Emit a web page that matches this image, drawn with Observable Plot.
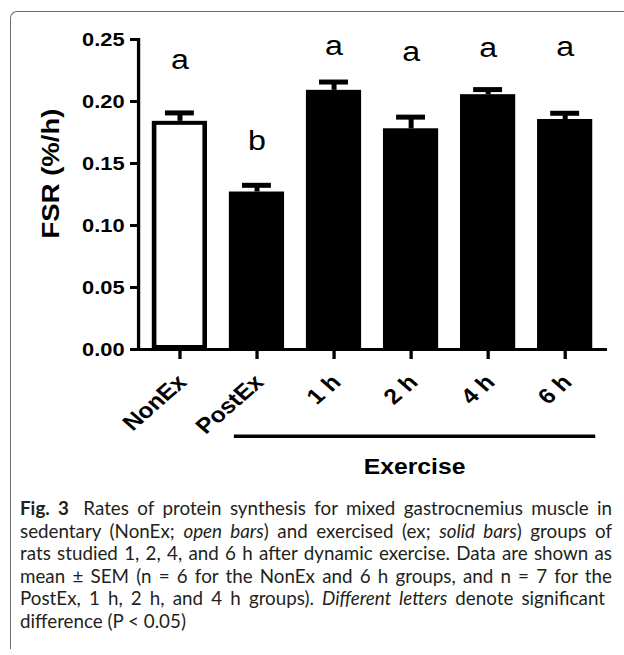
<!DOCTYPE html>
<html>
<head>
<meta charset="utf-8">
<script src="https://cdn.jsdelivr.net/npm/d3@7"></script>
<script src="https://cdn.jsdelivr.net/npm/@observablehq/plot@0.6"></script>
<style>
  html, body { margin: 0; padding: 0; background: #fff; }
  body { width: 624px; height: 655px; overflow: hidden; position: relative; }
  #frame { position: absolute; left: 10px; top: 11px; width: 700px; height: 637px;
           border-top: 1.5px solid #6e6e6e; border-left: 1.5px solid #6e6e6e;
           border-top-left-radius: 7px; pointer-events: none; z-index: 2; }
  #chart { position: absolute; left: 0; top: 0; }
  #caption { position: absolute; left: 20px; top: 497px; width: 592px;
             font-family: Lato, "Open Sans", sans-serif; font-size: 18.8px;
             line-height: 22.5px; color: #231f20; }
  #caption div { text-align: justify; text-align-last: justify; white-space: nowrap; }
  #caption div.l5 { width: 585px; }
  #caption div.last { text-align-last: left; }
  #caption b { font-weight: 700; margin-right: 6px; }
</style>
</head>
<body>
<div id="frame"></div>
<div id="chart"></div>
<div id="caption">
  <div><b>Fig. 3</b> Rates of protein synthesis for mixed gastrocnemius muscle in</div>
  <div>sedentary (NonEx; <i>open bars</i>) and exercised (ex; <i>solid bars</i>) groups of</div>
  <div>rats studied 1, 2, 4, and 6 h after dynamic exercise. Data are shown as</div>
  <div>mean ± SEM (n = 6 for the NonEx and 6 h groups, and n = 7 for the</div>
  <div class="l5">PostEx, 1 h, 2 h, and 4 h groups). <i>Different letters</i> denote significant</div>
  <div class="last">difference (P &lt; 0.05)</div>
</div>
<script>
// ---- data ----
const groups      = ["NonEx", "PostEx", "1 h", "2 h", "4 h", "6 h"];
const fsrMean     = [0.184, 0.127, 0.209, 0.178, 0.2055, 0.1855];
const fsrSem      = [0.0068, 0.0054, 0.0067, 0.0094, 0.0041, 0.0050];
const sigLetters  = ["a", "b", "a", "a", "a", "a"];
const letterLevel = [0.2266, 0.1605, 0.2379, 0.2323, 0.2357, 0.2363];
const barKind     = ["open", "solid", "solid", "solid", "solid", "solid"];
const yTicks      = [0, 0.05, 0.10, 0.15, 0.20, 0.25];
const exerciseGroups = ["PostEx", "6 h"];

// ---- layout ----
const S = 1.15;                // horizontal stretch of the original figure
const W = 624 / S, H = 490;
const sx = v => v / S;
const left = sx(138), right = sx(607);
const step = (right - left) / 6;
const bw = step * 0.72;
const capInset = (bw - sx(30)) / 2;

const rows = groups.map((g, i) => ({
  group: g, mean: fsrMean[i], sem: fsrSem[i],
  letter: sigLetters[i], level: letterLevel[i], kind: barKind[i]
}));

const chart = Plot.plot({
  width: W, height: H,
  marginLeft: left, marginRight: W - right, marginTop: 39, marginBottom: H - 349,
  style: {fontFamily: "'Liberation Sans', Arial, sans-serif", background: "transparent", color: "black", overflow: "visible"},
  x: {domain: groups, paddingInner: 0.28, paddingOuter: 0.14, label: null},
  y: {domain: [0, 0.25], label: null},
  marks: [
    Plot.barY(rows.filter(d => d.kind === "solid"), {x: "group", y: "mean", fill: "black"}),
    Plot.barY(rows.filter(d => d.kind === "open"), {x: "group", y: "mean", fill: "white", stroke: "black", strokeWidth: 4, inset: 2}),
    Plot.ruleX(rows, {x: "group", y1: "mean", y2: d => d.mean + d.sem, strokeWidth: sx(5), stroke: "black"}),
    Plot.tickY(rows, {x: "group", y: d => d.mean + d.sem, strokeWidth: 5, insetLeft: capInset, insetRight: capInset, stroke: "black"}),
    Plot.text(rows, {x: "group", y: "level", text: "letter", fontSize: 28, lineAnchor: "bottom", fill: "black"}),
    Plot.axisY({ticks: yTicks, tickFormat: d3.format(".2f"), tickSize: sx(8), tickPadding: sx(6), fontSize: 19, fontWeight: "bold", strokeWidth: 3, label: null}),
    Plot.axisX({tickSize: 10, tickFormat: () => "", strokeWidth: sx(3.3), label: null}),
    Plot.text(rows, {x: "group", text: "group", frameAnchor: "bottom", rotate: -45, textAnchor: "end", lineAnchor: "bottom",
                     dx: sx(8), dy: 34, fontSize: 21.5, fontWeight: "bold", fill: "black"}),
    Plot.frame({anchor: "left", strokeWidth: sx(3.3)}),
    Plot.ruleY([0], {strokeWidth: 3}),
    Plot.ruleY([{a: exerciseGroups[0], b: exerciseGroups[1]}], {y: () => 0, x1: "a", x2: "b", dy: 86.7, insetLeft: sx(5), insetRight: -sx(3), strokeWidth: 3.5}),
    Plot.text(["Exercise"], {text: d => d, frameAnchor: "bottom", dx: sx(414) - (left + right) / 2, dy: 124, lineAnchor: "bottom", fontSize: 21.5, fontWeight: "bold", fill: "black"}),
    Plot.text(["FSR (%/h)"], {text: d => d, frameAnchor: "left", textAnchor: "middle", dx: sx(51) - left, dy: 173 - (39 + 349) / 2, rotate: -90, fontSize: 21, fontWeight: "bold", fill: "black", className: "ylab"})
  ]
});

chart.setAttribute("width", 624);
chart.setAttribute("preserveAspectRatio", "none");
chart.style.width = "624px";
chart.style.height = H + "px";
chart.style.maxWidth = "none";
// the original y label is elongated along its length
chart.querySelectorAll(".ylab text").forEach(t => {
  const tr = t.getAttribute("transform") || "";
  t.setAttribute("transform", tr + " scale(1.31,1)");
});
document.getElementById("chart").appendChild(chart);
</script>
</body>
</html>
